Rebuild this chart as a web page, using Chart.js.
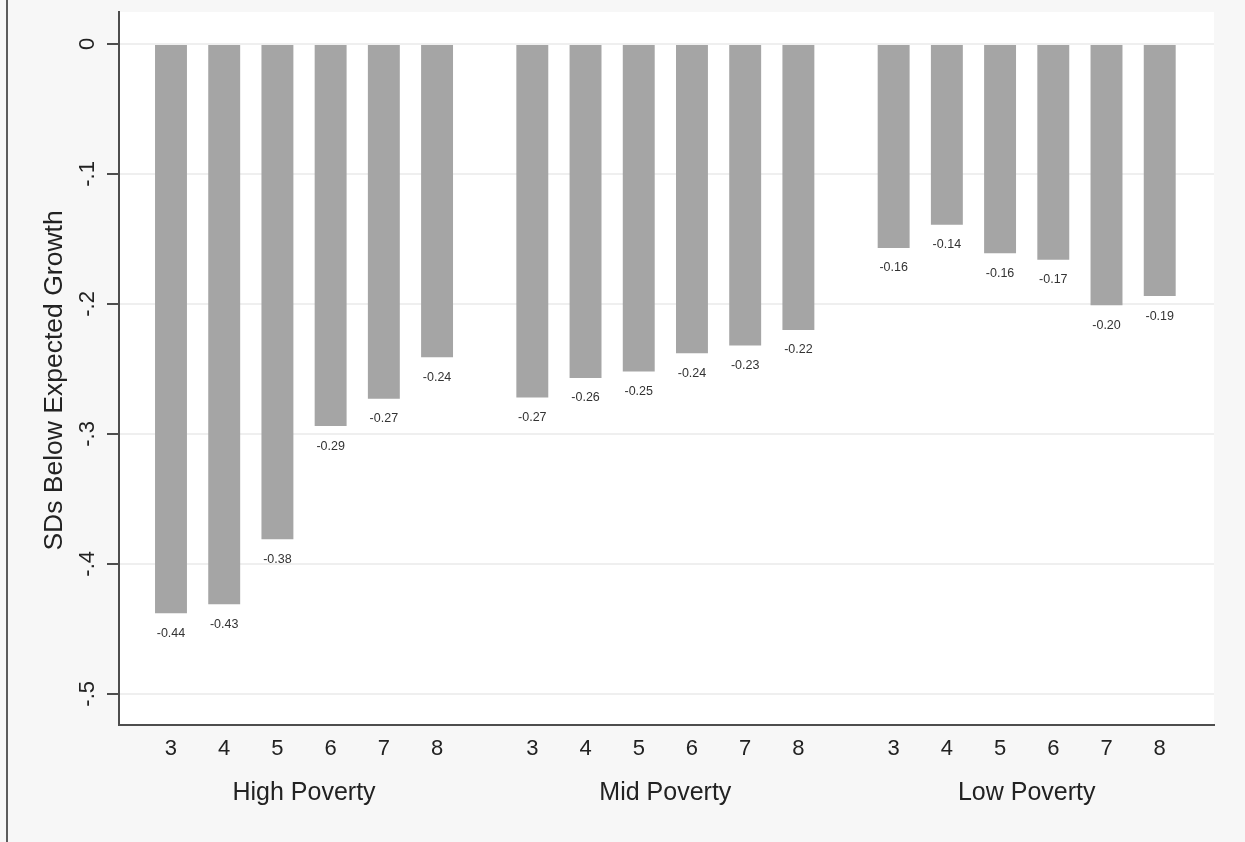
<!DOCTYPE html>
<html>
<head>
<meta charset="utf-8">
<title>SDs Below Expected Growth</title>
<script src="https://cdn.jsdelivr.net/npm/chart.js@4.4.1/dist/chart.umd.min.js"></script>
<style>
  html, body { margin: 0; padding: 0; background: #f7f7f7; }
  #wrap { position: relative; width: 1245px; height: 842px; }
  #edge { position: absolute; left: 6px; top: 0; width: 2px; height: 842px; background: #5c5c5c; }
  canvas { position: absolute; left: 0; top: 0; }
</style>
</head>
<body>
<div id="wrap">
  <canvas id="growthChart" width="1245" height="842"></canvas>
  <div id="edge"></div>
</div>
<script>
// data
const groups = ['High Poverty', 'Mid Poverty', 'Low Poverty'];
const grades = ['3', '4', '5', '6', '7', '8'];
const highPoverty = [-0.438, -0.431, -0.381, -0.294, -0.273, -0.241];
const midPoverty = [-0.272, -0.257, -0.252, -0.238, -0.232, -0.220];
const lowPoverty = [-0.157, -0.139, -0.161, -0.166, -0.201, -0.194];
const yTicks = [0, -0.1, -0.2, -0.3, -0.4, -0.5];
const yTickLabels = ['0', '-.1', '-.2', '-.3', '-.4', '-.5'];
const yTitle = 'SDs Below Expected Growth';

// bars sit on a linear x axis so the gap between groups can be wider than one slot
const groupGap = 0.79;
const seriesValues = [highPoverty, midPoverty, lowPoverty];
const barPoints = [];
seriesValues.forEach((vals, g) => {
  vals.forEach((v, i) => barPoints.push({ x: g * (grades.length + groupGap) + i + 1, y: v }));
});
const groupCenters = groups.map((_, g) => g * (grades.length + groupGap) + (grades.length + 1) / 2);

const FONT = '"Liberation Sans", Arial, Helvetica, sans-serif';
Chart.defaults.font.family = FONT;
Chart.defaults.color = '#222';

const plotBackground = {
  id: 'plotBackground',
  beforeDraw(chart) {
    const { ctx, chartArea: a } = chart;
    ctx.save();
    ctx.fillStyle = '#ffffff';
    ctx.fillRect(a.left, a.top, a.right - a.left, a.bottom - a.top);
    ctx.restore();
  }
};

// value under each bar
const barLabels = {
  id: 'barLabels',
  afterDatasetsDraw(chart) {
    const { ctx } = chart;
    const meta = chart.getDatasetMeta(0);
    ctx.save();
    ctx.font = '12.5px ' + FONT;
    ctx.fillStyle = '#333';
    ctx.textAlign = 'center';
    ctx.textBaseline = 'middle';
    meta.data.forEach((bar, i) => {
      const v = chart.data.datasets[0].data[i].y;
      ctx.fillText(v.toFixed(2), bar.x, bar.y + 20);
    });
    ctx.restore();
  }
};

const yAxisTitle = {
  id: 'yAxisTitle',
  afterDraw(chart) {
    const { ctx, chartArea: a } = chart;
    ctx.save();
    ctx.translate(a.left - 64, (a.top + a.bottom) / 2 + 12);
    ctx.rotate(-Math.PI / 2);
    ctx.font = '26.5px ' + FONT;
    ctx.fillStyle = '#222';
    ctx.textAlign = 'center';
    ctx.textBaseline = 'middle';
    ctx.fillText(yTitle, 0, 0);
    ctx.restore();
  }
};

const xMin = 0.023, xMax = 20.6;
const noPad = s => { s.paddingLeft = 0; s.paddingRight = 0; s.paddingTop = 0; s.paddingBottom = 0; };

new Chart(document.getElementById('growthChart'), {
  type: 'bar',
  data: {
    datasets: [{
      data: barPoints,
      backgroundColor: '#a5a5a5',
      borderWidth: 0,
      categoryPercentage: 0.6,
      barPercentage: 1
    }]
  },
  options: {
    responsive: false,
    animation: false,
    devicePixelRatio: 1,
    layout: { padding: { left: 0, top: 12, right: 31, bottom: 0 } },
    plugins: { legend: { display: false }, tooltip: { enabled: false } },
    scales: {
      x: {
        type: 'linear', min: xMin, max: xMax, weight: 0, offset: false,
        grid: { display: false, drawTicks: false, offset: false },
        border: { display: true, color: '#4d4d4d', width: 2 },
        afterBuildTicks: s => { s.ticks = barPoints.map(p => ({ value: p.x })); },
        ticks: {
          autoSkip: false, maxRotation: 0, padding: 11,
          font: { size: 22 }, color: '#222',
          callback: (v, i) => grades[i % grades.length]
        },
        afterFit: s => { s.height = 45; noPad(s); }
      },
      x2: {
        type: 'linear', position: 'bottom', min: xMin, max: xMax, weight: 1, offset: false,
        grid: { display: false, drawTicks: false, offset: false },
        border: { display: false },
        afterBuildTicks: s => { s.ticks = groupCenters.map(c => ({ value: c })); },
        ticks: {
          autoSkip: false, maxRotation: 0, padding: 8,
          font: { size: 25 }, color: '#222',
          callback: (v, i) => groups[i]
        },
        afterFit: s => { s.height = 72; noPad(s); }
      },
      y: {
        min: -0.524, max: 0.0246, beginAtZero: false,
        afterBuildTicks: s => { s.ticks = yTicks.map(v => ({ value: v })); },
        ticks: {
          minRotation: 90, maxRotation: 90, crossAlign: 'center', padding: 6,
          font: { size: 22 }, color: '#222',
          callback: (v, i) => yTickLabels[i]
        },
        grid: { color: '#efefef', lineWidth: 2, tickColor: '#4d4d4d', tickWidth: 2, tickLength: 12 },
        border: { color: '#4d4d4d', width: 2 },
        afterFit: s => { s.width = 119; noPad(s); }
      }
    }
  },
  plugins: [plotBackground, barLabels, yAxisTitle]
});
</script>
</body>
</html>
